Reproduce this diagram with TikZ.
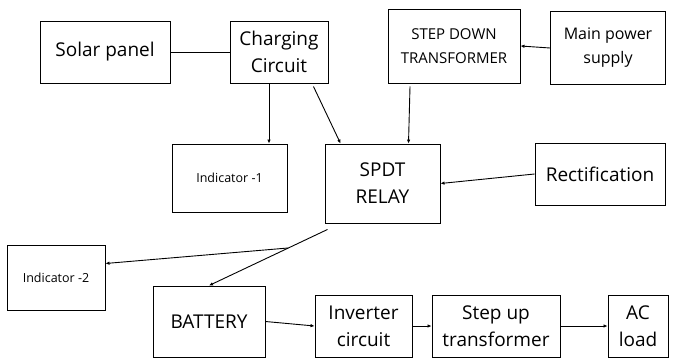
\documentclass[tikz,border=0pt]{standalone}
\usepackage{fontspec}
\setmainfont{Open Sans}
\usepackage{tikz}
\usetikzlibrary{arrows.meta}

\begin{document}
\begin{tikzpicture}[x=1pt, y=-1pt,
    box/.style={draw, line width=0.9pt, align=center, inner sep=0pt, font=\fontsize{19}{27}\selectfont},
    small/.style={font=\fontsize{15}{24}\selectfont},
    tiny/.style={font=\fontsize{12.5}{15}\selectfont},
    arrow/.style={-{Latex[length=4pt,width=3.5pt]}, line width=0.9pt}]
    \useasboundingbox (0,0) rectangle (674,358);
    \node[box, minimum width=130pt, minimum height=62pt] (solar) at (105,52) {Solar panel};
    \node[box, minimum width=98pt, minimum height=62pt] (charging) at (279,52) {Charging\\Circuit};
    \node[box, small, minimum width=132pt, minimum height=74pt] (stepdown) at (454,46) {STEP DOWN\\TRANSFORMER};
    \node[box, font=\fontsize{16}{24}\selectfont, minimum width=115pt, minimum height=73pt] (mains) at (608,48) {Main power\\supply};
    \node[box, tiny, minimum width=115pt, minimum height=68pt] (ind1) at (229.5,178) {Indicator -1};
    \node[box, minimum width=115pt, minimum height=79pt] (relay) at (382.5,183.5) {SPDT\\RELAY};
    \node[box, minimum width=130pt, minimum height=62pt] (rect) at (600,174) {Rectification};
    \node[box, tiny, minimum width=98pt, minimum height=65pt] (ind2) at (56,277.5) {Indicator -2};
    \node[box, minimum width=112pt, minimum height=71pt] (battery) at (209,321.5) {BATTERY};
    \node[box, minimum width=97pt, minimum height=62pt] (inverter) at (363.5,326) {Inverter\\circuit};
    \node[box, minimum width=128pt, minimum height=62pt] (stepup) at (496,326) {Step up\\transformer};
    \node[box, minimum width=60pt, minimum height=62pt] (acload) at (638,326) {AC\\load};
    % top row
    \draw[line width=0.9pt] (solar.east) -- (charging.west);
    \draw[arrow] (mains.west) -- (stepdown.east);
    \draw[arrow] ([xshift=-10pt]charging.south) -- ([xshift=-10pt]charging.south |- ind1.north);
    \draw[arrow] ([xshift=-15pt,yshift=-3pt]charging.south east) -- ([xshift=16pt]relay.north west);
    \draw[arrow] ([xshift=-44pt,yshift=-3pt]stepdown.south) -- ([xshift=26pt]relay.north);
    \draw[arrow] (rect.west) -- (relay.east);
    % relay outputs
    \draw[arrow] ([xshift=3pt,yshift=-6pt]relay.south west) -- (battery.north) coordinate[pos=0.33] (split);
    \draw[arrow] (split) -- ([yshift=14pt]ind2.east);
    % bottom row
    \draw[arrow] (battery.east) -- (inverter.west);
    \draw[arrow] (inverter.east) -- (stepup.west);
    \draw[arrow] (stepup.east) -- (acload.west);
\end{tikzpicture}
\end{document}
